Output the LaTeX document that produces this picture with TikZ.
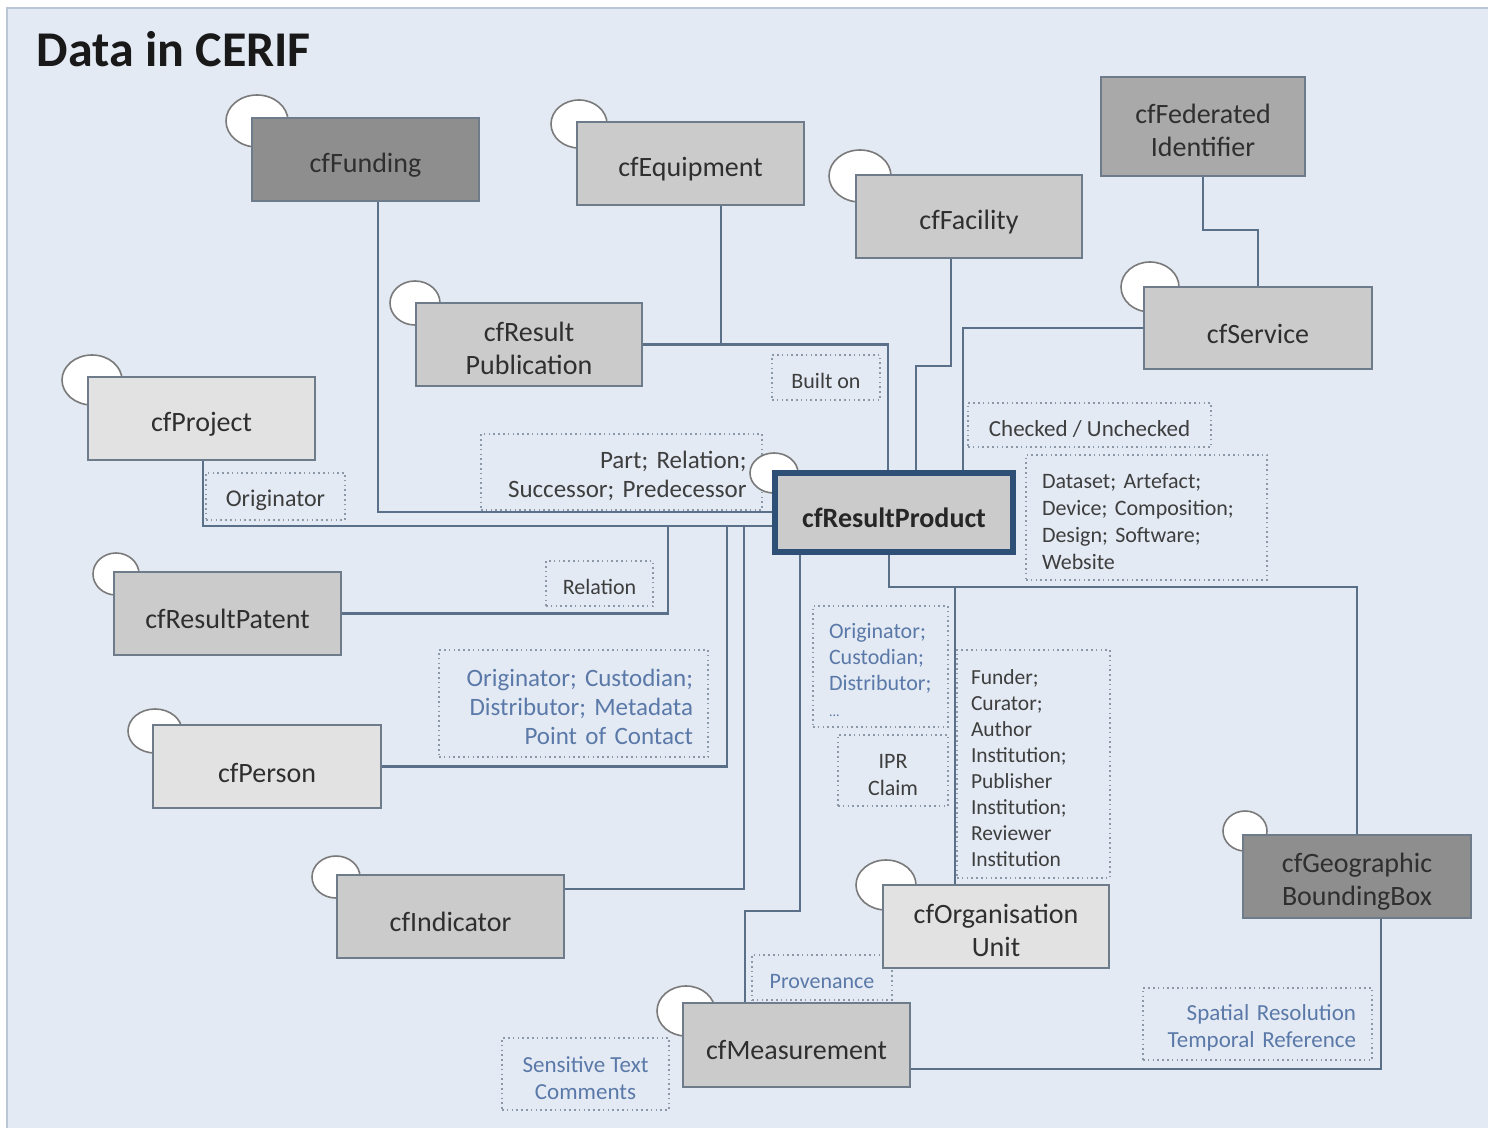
\documentclass[tikz,border=0pt]{standalone}
\usepackage{fontspec}
\setmainfont{Carlito}
\usetikzlibrary{shapes.geometric}
\pgfdeclarelayer{panel}
\pgfdeclarelayer{lines}
\pgfsetlayers{panel,lines,main}
\definecolor{bgblue}{HTML}{E3EAF4}
\definecolor{panelline}{HTML}{B9C6D6}
\definecolor{boxline}{HTML}{6E7B8B}
\definecolor{connline}{HTML}{5A6F88}
\definecolor{rpline}{HTML}{2E5076}
\definecolor{darkfill}{HTML}{8E8E8E}
\definecolor{fedfill}{HTML}{A9A9A9}
\definecolor{midfill}{HTML}{CBCBCB}
\definecolor{lightfill}{HTML}{E2E2E2}
\definecolor{boxtext}{HTML}{2F2F2F}
\definecolor{lbltext}{HTML}{3E3E3E}
\definecolor{bluetext}{HTML}{5B79A8}
\definecolor{dotline}{HTML}{8A98A8}
\definecolor{knobline}{HTML}{7A7A7A}
\newcommand\fsz[2]{\fontsize{#1}{#2}\selectfont}
\newcommand\su[1]{\rule{0pt}{\dimexpr0.76em+#1\relax}}
\tikzset{
  ebox/.style={draw=boxline, line width=2pt, font=\fsz{28}{33}, text=boxtext, align=center, inner sep=0pt},
  knob/.style={ellipse, draw=knobline, fill=white, line width=1.6pt, inner sep=0pt},
  lbl/.style={draw=dotline, line width=1.6pt, dash pattern=on 1.6pt off 3.2pt, inner sep=0pt, text=lbltext},
  conn/.style={draw=connline, line width=2.7pt},
}
\begin{document}
\begin{tikzpicture}[x=1pt,y=-1pt]
\useasboundingbox (0,0) rectangle (1488,1127);
\begin{pgfonlayer}{panel}
\fill[white] (0,0) rectangle (1488,1127);
\fill[bgblue] (7,8) rectangle (1495,1135);
\draw[panelline, line width=1.5pt] (7,1135) -- (7,8) -- (1495,8);
\end{pgfonlayer}

\node[anchor=base west, font=\fsz{50}{54}\bfseries, text=black!90] (title) at (33,66) {Data in CERIF};

% label boxes
\node[lbl, minimum width=139pt, minimum height=47pt, font=\fsz{24}{28}] (lOrig) at (275.5,496.5) {\su{6pt}Originator};
\node[lbl, minimum width=281pt, minimum height=76pt, text width=250pt, align=right, font=\fsz{25}{29}] (lPart) at (621.5,472) {\su{6pt}Part; Relation;\\Successor; Predecessor};
\node[lbl, minimum width=108pt, minimum height=45pt, font=\fsz{22}{26}] (lBuilt) at (826,377.5) {\su{6pt}Built on};
\node[lbl, minimum width=107pt, minimum height=45pt, font=\fsz{22}{26}] (lRel) at (599.5,583.5) {\su{6pt}Relation};
\node[lbl, minimum width=269pt, minimum height=107pt, text width=239pt, align=right, font=\fsz{25}{29}, text=bluetext] (lOCD) at (573.5,703.5) {\su{6pt}Originator; Custodian;\\Distributor; Metadata\\Point of Contact};
\node[lbl, minimum width=243pt, minimum height=44pt, font=\fsz{23}{27}] (lCheck) at (1089.5,425) {\su{6pt}Checked / Unchecked};
\node[lbl, minimum width=241pt, minimum height=125pt, text width=209pt, align=left, font=\fsz{22}{27}] (lData) at (1146.5,517.5) {\su{6pt}Dataset; Artefact;\\Device; Composition;\\Design; Software;\\Website};
\node[lbl, minimum width=135pt, minimum height=121pt, text width=103pt, align=left, font=\fsz{22}{26}, text=bluetext] (lOCD2) at (880.5,666.5) {\su{6pt}Originator;\\Custodian;\\Distributor;\\{\fsz{14}{26}...}};
\node[lbl, minimum width=110pt, minimum height=71pt, align=center, font=\fsz{22}{27}] (lIPR) at (893,770.5) {\su{6pt}IPR\\Claim};
\node[lbl, minimum width=153pt, minimum height=228pt, text width=125pt, align=left, font=\fsz{21.5}{26}] (lFund) at (1033.5,764) {\su{6pt}Funder;\\Curator;\\Author\\Institution;\\Publisher\\Institution;\\Reviewer\\Institution};
\node[lbl, minimum width=140pt, minimum height=45pt, font=\fsz{22}{26}, text=bluetext] (lProv) at (822,977.5) {\su{6pt}Provenance};
\node[lbl, minimum width=167pt, minimum height=72pt, align=center, font=\fsz{23}{27}, text=bluetext] (lSens) at (585.5,1074) {\su{6pt}Sensitive Text\\Comments};
\node[lbl, minimum width=229pt, minimum height=72pt, text width=197pt, align=right, font=\fsz{23}{27}, text=bluetext] (lSpat) at (1257.5,1024) {\su{6pt}Spatial Resolution\\Temporal Reference};

% knobs
\node[knob, minimum width=62pt, minimum height=52pt] (kFund) at (257,121) {};
\node[knob, minimum width=56pt, minimum height=48pt] (kEq) at (579,124) {};
\node[knob, minimum width=62pt, minimum height=52pt] (kFac) at (860,176) {};
\node[knob, minimum width=58pt, minimum height=50pt] (kSvc) at (1150,287) {};
\node[knob, minimum width=50pt, minimum height=44pt] (kPub) at (415,303) {};
\node[knob, minimum width=60pt, minimum height=50pt] (kProj) at (92,380) {};
\node[knob, minimum width=48pt, minimum height=40pt] (kRP) at (774,473) {};
\node[knob, minimum width=46pt, minimum height=42pt] (kPat) at (116,574) {};
\node[knob, minimum width=54pt, minimum height=44pt] (kPer) at (155,731) {};
\node[knob, minimum width=48pt, minimum height=42pt] (kInd) at (336,877) {};
\node[knob, minimum width=58pt, minimum height=50pt] (kMeas) at (686,1011) {};
\node[knob, minimum width=60pt, minimum height=50pt] (kOrg) at (886,885) {};
\node[knob, minimum width=44pt, minimum height=40pt] (kGeo) at (1245,831) {};

% entity boxes
\node[ebox, fill=darkfill, minimum width=227pt, minimum height=83pt] (funding) at (365.5,159.5) {\su{10pt}cfFunding};
\node[ebox, fill=midfill, minimum width=227pt, minimum height=83pt] (equipment) at (690.5,163.5) {\su{10pt}cfEquipment};
\node[ebox, fill=midfill, minimum width=226pt, minimum height=83pt] (facility) at (969,216.5) {\su{10pt}cfFacility};
\node[ebox, fill=fedfill, minimum width=204pt, minimum height=99pt] (fed) at (1203,126.5) {\su{6pt}cfFederated\\Identifier};
\node[ebox, fill=midfill, minimum width=228pt, minimum height=82pt] (service) at (1258,328) {\su{10pt}cfService};
\node[ebox, fill=midfill, minimum width=226pt, minimum height=83pt] (pub) at (529,344.5) {\su{5pt}cfResult\\Publication};
\node[ebox, fill=lightfill, minimum width=227pt, minimum height=83pt] (project) at (201.5,418.5) {\su{10pt}cfProject};
\node[ebox, fill=midfill, draw=rpline, line width=6pt, minimum width=238pt, minimum height=79pt, font=\fsz{28}{33}\bfseries, text=black!85] (rp) at (894,512.5) {\su{8pt}cfResultProduct};
\node[ebox, fill=midfill, minimum width=227pt, minimum height=83pt] (patent) at (227.5,613.5) {\su{8pt}cfResultPatent};
\node[ebox, fill=lightfill, minimum width=228pt, minimum height=83pt] (person) at (267,766.5) {\su{10pt}cfPerson};
\node[ebox, fill=midfill, minimum width=227pt, minimum height=83pt] (indicator) at (450.5,916.5) {\su{8pt}cfIndicator};
\node[ebox, fill=lightfill, minimum width=226pt, minimum height=83pt] (org) at (996,926.5) {\su{6pt}cfOrganisation\\Unit};
\node[ebox, fill=darkfill, minimum width=228pt, minimum height=83pt] (geo) at (1357,876.5) {\su{8pt}cfGeographic\\BoundingBox};
\node[ebox, fill=midfill, minimum width=227pt, minimum height=84pt] (meas) at (796.5,1045) {\su{8pt}cfMeasurement};

% rails
\coordinate (vFund) at (378,0);
\coordinate (hFund) at (0,512);
\coordinate (vProj) at (203,0);
\coordinate (hProj) at (0,526);
\coordinate (vRel) at (668,0);
\coordinate (vPer) at (727,0);
\coordinate (vInd) at (744,0);
\coordinate (hInd) at (0,889);
\coordinate (vEq) at (721,0);
\coordinate (vBuilt) at (888,0);
\coordinate (vFac) at (951,0);
\coordinate (hFac) at (0,366);
\coordinate (vFac2) at (916,0);
\coordinate (vSvc) at (963,0);
\coordinate (hFS) at (0,230);
\coordinate (vRPb) at (889,0);
\coordinate (hGeo) at (0,587);
\coordinate (vOrg) at (955,0);
\coordinate (vMeas) at (745,0);
\coordinate (hMeas) at (0,911);
\coordinate (vRP2) at (800,0);
\coordinate (vGeoB) at (1381,0);
\coordinate (hGM) at (0,1069);
\coordinate (jOrg) at (vOrg |- hGeo);

\begin{pgfonlayer}{lines}
\draw[conn] (funding.south -| vFund) |- (rp.west |- hFund);
\draw[conn] (project.south -| vProj) |- (rp.west |- hProj);
\draw[conn] (patent.east) -| (vRel |- hProj);
\draw[conn] (person.east) -| (vPer |- hProj);
\draw[conn] (indicator.east |- hInd) -| (vInd |- hProj);
\draw[conn] (pub.east) -| (rp.north -| vBuilt);
\draw[conn] (equipment.south -| vEq) -- (vEq |- pub.east);
\draw[conn] (facility.south -| vFac) |- (vFac2 |- hFac) -- (rp.north -| vFac2);
\draw[conn] (service.west) -| (rp.north -| vSvc);
\draw[conn] (fed.south) |- (service.north |- hFS) -- (service.north);
\draw[conn] (rp.south -| vRPb) |- (geo.north |- hGeo) -- (geo.north);
\draw[conn] (jOrg) -- (org.north -| vOrg);
\draw[conn] (meas.north -| vMeas) |- (vRP2 |- hMeas) -- (rp.south -| vRP2);
\draw[conn] (geo.south -| vGeoB) |- (meas.east |- hGM);
\end{pgfonlayer}
\end{tikzpicture}
\end{document}
